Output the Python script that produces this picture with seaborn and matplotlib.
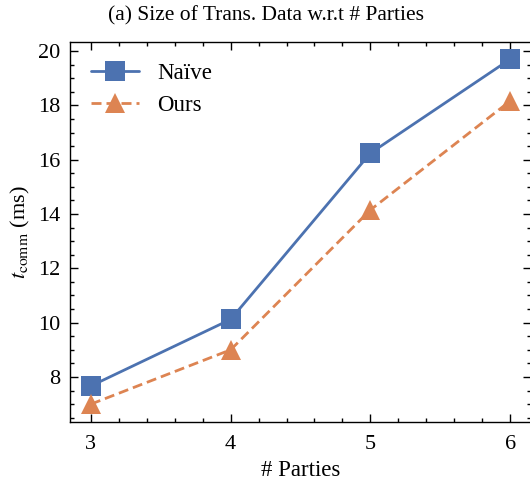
import numpy as np
import pandas as pd
import matplotlib
matplotlib.use("Agg")
import matplotlib.pyplot as plt
import seaborn as sns
from matplotlib.ticker import MultipleLocator

parties = [3, 4, 5, 6]
naive_ms = [7.67, 10.12, 16.24, 19.70]
ours_ms = [7.0, 9.0, 14.15, 18.16]
methods = ["Naïve", "Ours"]

sns.set_style("ticks")
plt.rcParams["font.family"] = ["Liberation Serif", "DejaVu Serif"]
plt.rcParams["mathtext.fontset"] = "stix"
plt.rcParams["text.color"] = "black"
plt.rcParams["axes.labelcolor"] = "black"
plt.rcParams["xtick.color"] = "black"
plt.rcParams["ytick.color"] = "black"
plt.rcParams["axes.edgecolor"] = "black"

df = pd.DataFrame({
    "parties": parties * 2,
    "t": naive_ms + ours_ms,
    "method": [methods[0]] * 4 + [methods[1]] * 4,
})

fig = plt.figure(figsize=(5.3, 4.84), dpi=100)
ax = fig.add_axes([0.132, 0.128, 0.87, 0.785])

colors = ["#4C72B0", "#DD8452"]
sns.lineplot(data=df, x="parties", y="t", hue="method", style="method",
             palette=colors, markers=["s", "^"], dashes=[(None, None), (3.6, 1.8)],
             markersize=14, linewidth=2.0, markeredgewidth=0, ax=ax)

ax.set_xlim(2.85, 6.15)
ax.set_ylim(6.34, 20.33)
ax.xaxis.set_major_locator(MultipleLocator(1))
ax.xaxis.set_minor_locator(MultipleLocator(0.2))
ax.yaxis.set_major_locator(MultipleLocator(2))
ax.yaxis.set_minor_locator(MultipleLocator(0.5))
ax.tick_params(which="both", top=True, right=True, direction="in", labelsize=16)
ax.tick_params(which="major", length=6, width=1)
ax.tick_params(which="minor", length=3, width=1)
ax.tick_params(axis="x", which="major", pad=9)
ax.tick_params(axis="y", which="major", pad=7)
for s in ax.spines.values():
    s.set_linewidth(1)

ax.set_xlabel("# Parties", fontsize=16.5, labelpad=5)
ax.set_ylabel(r"$t_{\mathrm{comm}}$ (ms)", fontsize=16, labelpad=4)
fig.text(0.502, 0.968, "(a) Size of Trans. Data w.r.t # Parties",
         fontsize=15.5, ha="center", va="center")

ax.legend(title=None, frameon=False, loc="upper left", fontsize=16.5,
          handlelength=2.1, borderaxespad=0.5)

fig.savefig("out.png", dpi=100)
